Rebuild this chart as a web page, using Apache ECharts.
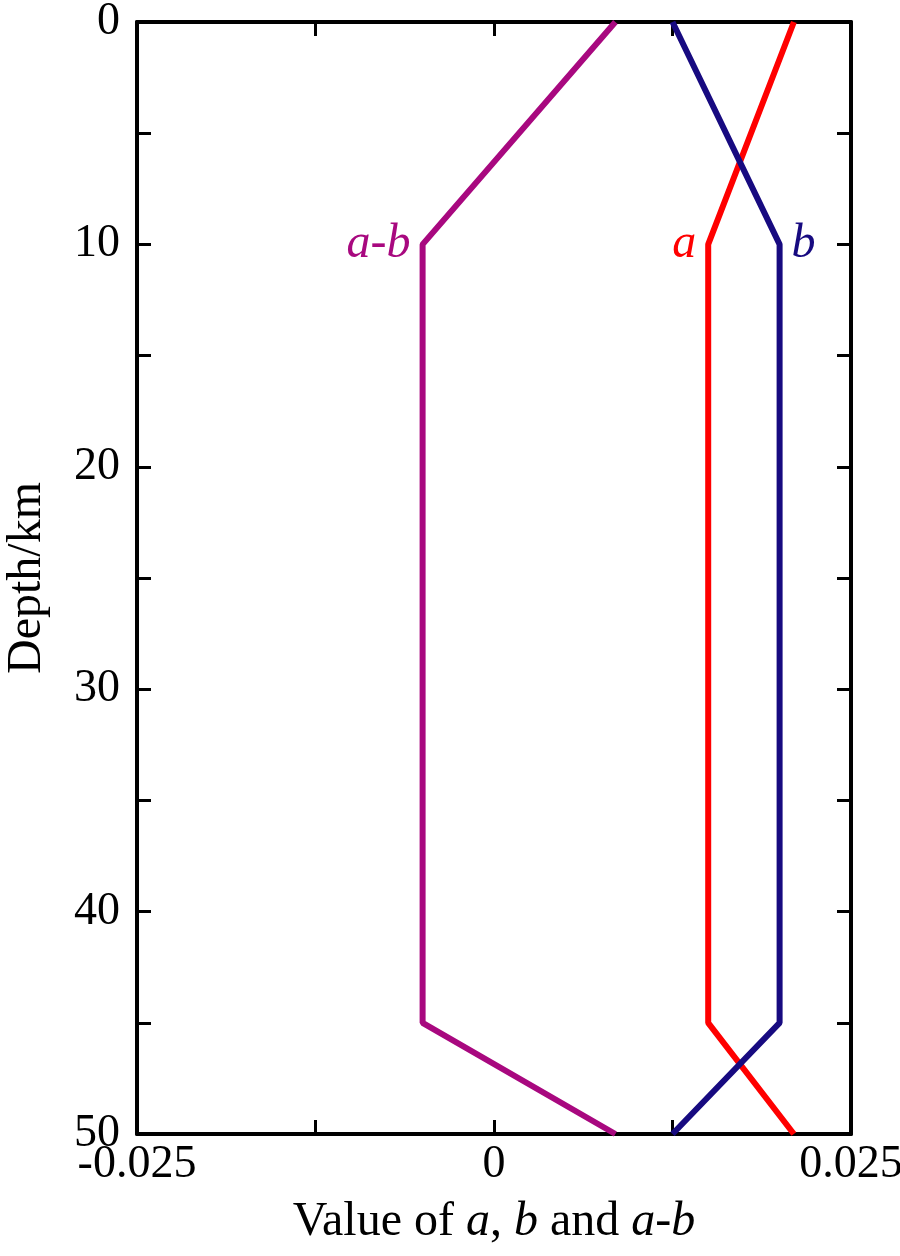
<!DOCTYPE html>
<html>
<head>
<meta charset="utf-8">
<script src="https://cdn.jsdelivr.net/npm/echarts@6/dist/echarts.min.js"></script>
<style>
  html, body { margin: 0; padding: 0; background: #fff; }
  #chart { width: 900px; height: 1256px; }
</style>
</head>
<body>
<div id="chart"></div>
<script>
// depth (km) of the profile nodes
var depth = [0, 10, 45, 50];
// parameter values at each depth
var aValues = [0.021, 0.015, 0.015, 0.021];
var bValues = [0.0125, 0.020, 0.020, 0.0125];
var abValues = [0.0085, -0.005, -0.005, 0.0085];
// curve labels and where they sit (index into depth)
var seriesNames = ["a", "b", "a-b"];
var labelAt = 1;

var FONT = "Liberation Serif";

function pairs(vals, name, color, labelPos) {
  return vals.map(function (v, i) {
    var item = { value: [v, depth[i]] };
    if (i === labelAt) {
      item.label = {
        show: true,
        position: labelPos,
        distance: 12,
        formatter: name,
        color: color,
        fontFamily: FONT,
        fontStyle: "italic",
        fontSize: 48
      };
    }
    return item;
  });
}

var chart = echarts.init(document.getElementById("chart"));

var xCommon = {
  type: "value",
  min: -0.025,
  max: 0.025,
  interval: 0.0125,
  axisLine: { show: true, onZero: false, lineStyle: { color: "#000", width: 4 } },
  axisTick: { show: true, inside: true, length: 14, lineStyle: { color: "#000", width: 3 } },
  splitLine: { show: false }
};
var yCommon = {
  type: "value",
  inverse: true,
  min: 0,
  max: 50,
  interval: 5,
  axisLine: { show: true, onZero: false, lineStyle: { color: "#000", width: 4 } },
  axisTick: { show: true, inside: true, length: 14, lineStyle: { color: "#000", width: 3 } },
  splitLine: { show: false }
};

var option = {
  backgroundColor: "#fff",
  animation: false,
  grid: { left: 137, right: 49, top: 22, bottom: 122, outerBoundsMode: "none", containLabel: false },
  xAxis: [
    Object.assign({}, xCommon, {
      position: "bottom",
      name: "Value of {i|a}, {i|b} and {i|a}-{i|b}",
      nameLocation: "middle",
      nameGap: 64,
      nameTextStyle: {
        fontFamily: FONT, fontSize: 48, color: "#000",
        rich: { i: { fontFamily: FONT, fontSize: 48, fontStyle: "italic", color: "#000" } }
      },
      axisLabel: {
        show: true,
        margin: 8,
        fontFamily: FONT,
        fontSize: 46,
        color: "#000",
        formatter: function (v) {
          var k = Math.round(v / 0.0125);
          if (k % 2 !== 0) return "";
          if (k === 0) return "0";
          return (k * 0.0125).toFixed(3);
        }
      }
    }),
    Object.assign({}, xCommon, { position: "top", axisLabel: { show: false } })
  ],
  yAxis: [
    Object.assign({}, yCommon, {
      position: "left",
      name: "Depth/km",
      nameLocation: "middle",
      nameGap: 86,
      nameRotate: 90,
      nameTextStyle: { fontFamily: FONT, fontSize: 48, color: "#000" },
      axisLabel: {
        show: true,
        margin: 17,
        fontFamily: FONT,
        fontSize: 46,
        color: "#000",
        formatter: function (v) {
          return v % 10 === 0 ? String(v) : "";
        }
      }
    }),
    Object.assign({}, yCommon, { position: "right", axisLabel: { show: false } })
  ],
  series: [
    {
      name: seriesNames[2],
      type: "line",
      symbol: "circle",
      symbolSize: 0,
      lineStyle: { color: "#A8087F", width: 6 },
      itemStyle: { color: "#A8087F" },
      data: pairs(abValues, seriesNames[2], "#A8087F", "left"),
      z: 3
    },
    {
      name: seriesNames[0],
      type: "line",
      symbol: "circle",
      symbolSize: 0,
      lineStyle: { color: "#FF0000", width: 6 },
      itemStyle: { color: "#FF0000" },
      data: pairs(aValues, seriesNames[0], "#FF0000", "left"),
      z: 3
    },
    {
      name: seriesNames[1],
      type: "line",
      symbol: "circle",
      symbolSize: 0,
      lineStyle: { color: "#170A80", width: 6 },
      itemStyle: { color: "#170A80" },
      data: pairs(bValues, seriesNames[1], "#170A80", "right"),
      z: 4
    }
  ]
};

chart.setOption(option);
</script>
</body>
</html>
